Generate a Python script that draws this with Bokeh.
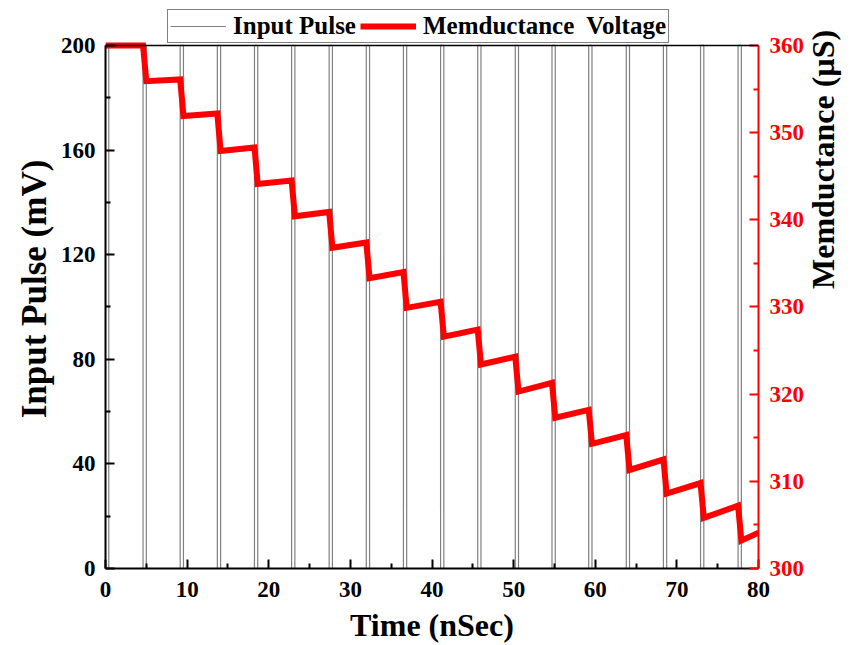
import math
from bokeh.plotting import figure
from bokeh.models import Range1d, LinearAxis, Legend, LegendItem, FixedTicker, Span
from bokeh.embed import file_html
from bokeh.resources import INLINE

# ---- data ----
pulse_start = [0.0, 4.6, 9.15, 13.7, 18.25, 22.8, 27.4, 31.95, 36.5, 41.05, 45.6,
               50.2, 54.7, 59.2, 63.8, 68.35, 72.9, 77.5]   # nSec
pulse_width = 0.4        # nSec
pulse_amp = 200          # mV
t_end = 80

mem_start = 360.0        # uS
mem_low = [355.9, 351.9, 347.9, 344.1, 340.4, 336.8, 333.3, 329.9, 326.6, 323.4,
           320.3, 317.3, 314.3, 311.3, 308.6, 305.8, 303.2]
mem_high = [356.1, 352.2, 348.3, 344.5, 340.9, 337.4, 334.0, 330.6, 327.4, 324.3,
            321.3, 318.2, 315.3, 312.5, 309.8, 307.2, 304.1]

x_ticks = [0, 10, 20, 30, 40, 50, 60, 70, 80]
y_ticks = [0, 40, 80, 120, 160, 200]
y2_ticks = [300, 310, 320, 330, 340, 350, 360]

# ---- build polylines ----
pt, pv = [0], [0]
for s in pulse_start:
    pt += [s, s, s + pulse_width, s + pulse_width]
    pv += [0, pulse_amp, pulse_amp, 0]
pt.append(t_end)
pv.append(0)

mt, mv = [0], [mem_start]
prev = mem_start
for s, lo, hi in zip(pulse_start[1:], mem_low, mem_high):
    mt += [s, s + pulse_width]
    mv += [prev, lo]
    prev = hi
mt.append(t_end)
mv.append(prev)

FONT = "Liberation Serif"
RED = "#ff0000"

# frame is extended upward to hold the legend; axes are bounded to the data box
H = 645
FRAME_TOP, FRAME_BOTTOM, BOX_TOP = 9, 569, 45
ext = (FRAME_BOTTOM - FRAME_TOP) / (FRAME_BOTTOM - BOX_TOP)   # >1

p = figure(width=862, height=H, output_backend="svg", toolbar_location=None,
           x_range=Range1d(0, 80), y_range=Range1d(0, y_ticks[-1] * ext),
           min_border_left=105, min_border_right=103, min_border_top=FRAME_TOP,
           min_border_bottom=H - FRAME_BOTTOM)
p.extra_y_ranges = {"mem": Range1d(y2_ticks[0], y2_ticks[0] + (y2_ticks[-1] - y2_ticks[0]) * ext)}
p.xgrid.visible = False
p.ygrid.visible = False
p.outline_line_color = None

r_pulse = p.line(pt, pv, line_color="#808080", line_width=1.2)
r_mem = p.line(mt, mv, line_color=RED, line_width=6, y_range_name="mem",
               line_join="miter")
p.add_layout(Span(location=y_ticks[-1], dimension="width", line_color="black", line_width=1.5))

def style(ax, color="black", label_color="black", label_size="32px"):
    ax.axis_line_color = color
    ax.axis_line_width = 2
    ax.major_tick_line_color = color
    ax.minor_tick_line_color = color
    ax.major_tick_line_width = 2
    ax.minor_tick_line_width = 2
    ax.major_tick_in = 9
    ax.major_tick_out = 0
    ax.minor_tick_in = 5
    ax.minor_tick_out = 0
    ax.major_label_text_font = FONT
    ax.major_label_text_font_style = "bold"
    ax.major_label_text_font_size = "23px"
    ax.major_label_text_color = color
    ax.axis_label_text_font = FONT
    ax.axis_label_text_font_style = "bold"
    ax.axis_label_text_font_size = label_size
    ax.axis_label_text_color = label_color

xa = p.xaxis[0]
xa.ticker = FixedTicker(ticks=x_ticks, minor_ticks=[v + 5 for v in x_ticks[:-1]])
xa.axis_label = "Time (nSec)"
style(xa)
xa.major_label_standoff = 13
xa.axis_label_standoff = 7

ya = p.yaxis[0]
ya.ticker = FixedTicker(ticks=y_ticks, minor_ticks=[v + 20 for v in y_ticks[:-1]])
ya.bounds = (y_ticks[0], y_ticks[-1])
ya.axis_label = "Input Pulse (mV)"
style(ya, label_size="35px")
ya.major_label_standoff = 10
ya.axis_label_standoff = 4

y2 = LinearAxis(y_range_name="mem", axis_label="Memductance (\u00b5S)")
y2.ticker = FixedTicker(ticks=y2_ticks, minor_ticks=[v + 5 for v in y2_ticks[:-1]])
y2.bounds = (y2_ticks[0], y2_ticks[-1])
style(y2, color=RED, label_color="black")
y2.major_label_standoff = 11
y2.axis_label_standoff = 16
y2.axis_label_orientation = math.pi / 2
p.add_layout(y2, "right")

legend = Legend(items=[LegendItem(label="Input Pulse", renderers=[r_pulse]),
                       LegendItem(label="Memductance  Voltage", renderers=[r_mem])],
                orientation="horizontal", location=(62, FRAME_BOTTOM - 44))
legend.label_text_font = FONT
legend.label_text_font_style = "bold"
legend.label_text_font_size = "25px"
legend.label_text_color = "black"
legend.glyph_width = 56
legend.glyph_height = 20
legend.label_standoff = 7
legend.spacing = 4
legend.padding = 2
legend.margin = 0
legend.border_line_color = "black"
legend.border_line_width = 1
legend.background_fill_alpha = 1
p.add_layout(legend, "center")

open("out.html", "w").write(file_html(p, INLINE))
